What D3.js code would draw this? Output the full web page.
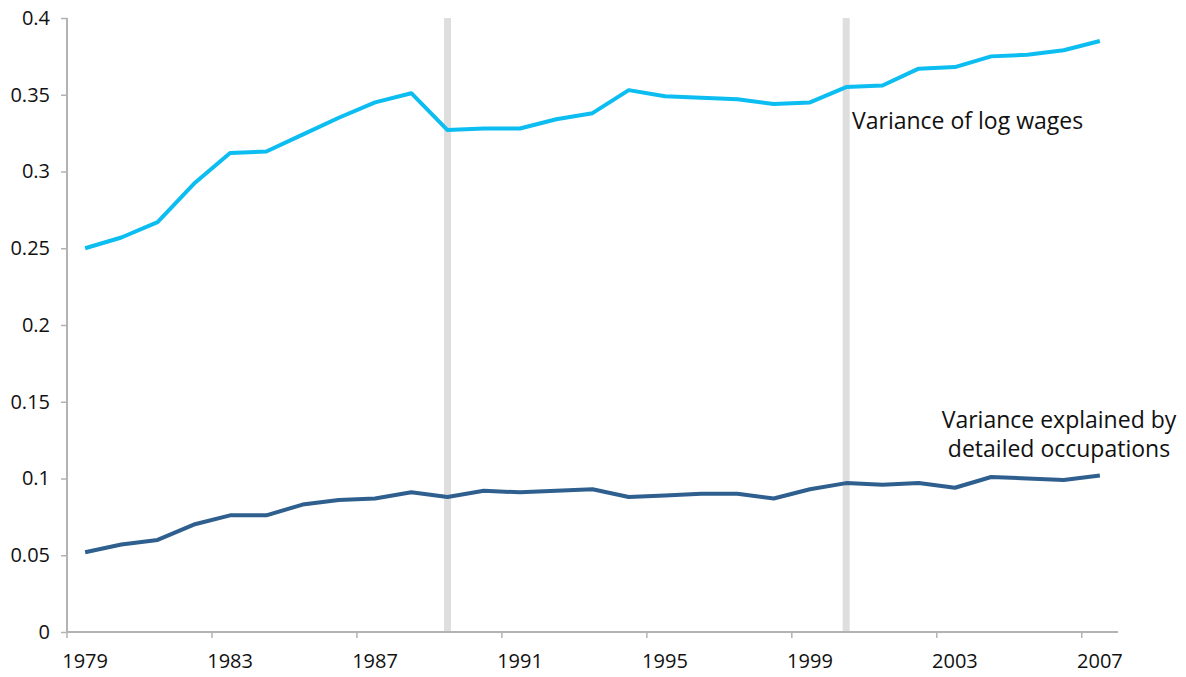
<!DOCTYPE html>
<html>
<head>
<meta charset="utf-8">
<script src="https://cdnjs.cloudflare.com/ajax/libs/d3/7.8.5/d3.min.js"></script>
<style>
  body { margin: 0; background: #fff; }
  svg text { font-family: "Open Sans", "Noto Sans", sans-serif; fill: #111; }
</style>
</head>
<body>
<svg width="1186" height="677"></svg>
<script>
const years = d3.range(1979, 2008);

const logWageVariance = [
  0.250, 0.257, 0.267, 0.292, 0.312, 0.313, 0.324, 0.335, 0.345, 0.351,
  0.327, 0.328, 0.328, 0.334, 0.338, 0.353, 0.349, 0.348, 0.347, 0.344,
  0.345, 0.355, 0.356, 0.367, 0.368, 0.375, 0.376, 0.379, 0.385
];

const occupationVariance = [
  0.052, 0.057, 0.060, 0.070, 0.076, 0.076, 0.083, 0.086, 0.087, 0.091,
  0.088, 0.092, 0.091, 0.092, 0.093, 0.088, 0.089, 0.090, 0.090, 0.087,
  0.093, 0.097, 0.096, 0.097, 0.094, 0.101, 0.100, 0.099, 0.102
];

const yTicks = [0, 0.05, 0.1, 0.15, 0.2, 0.25, 0.3, 0.35, 0.4];
const xTickYears = [1979, 1983, 1987, 1991, 1995, 1999, 2003, 2007];
const markerYears = [1989, 2000];

const svg = d3.select('svg');
const plotLeft = 67, plotRight = 1118, plotTop = 18, plotBottom = 632;

const x = d3.scaleBand()
  .domain(years)
  .range([plotLeft, plotRight])
  .padding(0);

const y = d3.scaleLinear()
  .domain([0, 0.4])
  .range([plotBottom, plotTop]);

const cx = yr => x(yr) + x.bandwidth() / 2;

// grey vertical markers
svg.append('g')
  .selectAll('rect')
  .data(markerYears)
  .enter().append('rect')
    .attr('x', d => cx(d) - 3.5)
    .attr('y', plotTop)
    .attr('width', 7)
    .attr('height', plotBottom - plotTop)
    .attr('fill', '#dedede');

// y axis
const yAxis = svg.append('g')
  .attr('transform', `translate(${plotLeft},0)`)
  .call(d3.axisLeft(y).tickValues(yTicks).tickSize(6).tickPadding(11).tickFormat(d => String(+d.toFixed(2))));

// x axis: ticks at band edges, labels at band centres
const xAxis = svg.append('g')
  .attr('transform', `translate(0,${plotBottom})`)
  .call(d3.axisBottom(x).tickValues(xTickYears).tickSize(0).tickPadding(22));

svg.append('g')
  .selectAll('line')
  .data(xTickYears)
  .enter().append('line')
    .attr('x1', d => x(d))
    .attr('x2', d => x(d))
    .attr('y1', plotBottom)
    .attr('y2', plotBottom + 6)
    .attr('stroke', '#b3b3b3')
    .attr('stroke-width', 1.5);

[yAxis, xAxis].forEach(g => {
  g.select('.domain').attr('stroke', '#b3b3b3').attr('stroke-width', 2);
  g.selectAll('.tick line').attr('stroke', '#b3b3b3').attr('stroke-width', 1.5);
  g.selectAll('.tick text')
    .attr('font-family', '"Open Sans", sans-serif')
    .attr('font-size', 20)
    .attr('fill', '#111');
});
xAxis.select('.domain').attr('d', `M${plotLeft},0H${plotRight}`);
yAxis.select('.domain').attr('d', `M0,${plotBottom}V${plotTop}`);

const line = d3.line()
  .x((d, i) => cx(years[i]))
  .y(d => y(d));

svg.append('path')
  .datum(logWageVariance)
  .attr('fill', 'none')
  .attr('stroke', '#0bbdf0')
  .attr('stroke-width', 4)
  .attr('stroke-linejoin', 'round')
  .attr('d', line);

svg.append('path')
  .datum(occupationVariance)
  .attr('fill', 'none')
  .attr('stroke', '#2f5f8e')
  .attr('stroke-width', 4)
  .attr('stroke-linejoin', 'round')
  .attr('d', line);

// labels
svg.append('text')
  .attr('x', 852)
  .attr('y', 129)
  .attr('font-size', 23)
  .text('Variance of log wages');

const lbl = svg.append('text')
  .attr('text-anchor', 'middle')
  .attr('font-size', 23);
lbl.append('tspan').attr('x', 1059).attr('y', 428).text('Variance explained by');
lbl.append('tspan').attr('x', 1059).attr('y', 457).text('detailed occupations');
</script>
</body>
</html>
